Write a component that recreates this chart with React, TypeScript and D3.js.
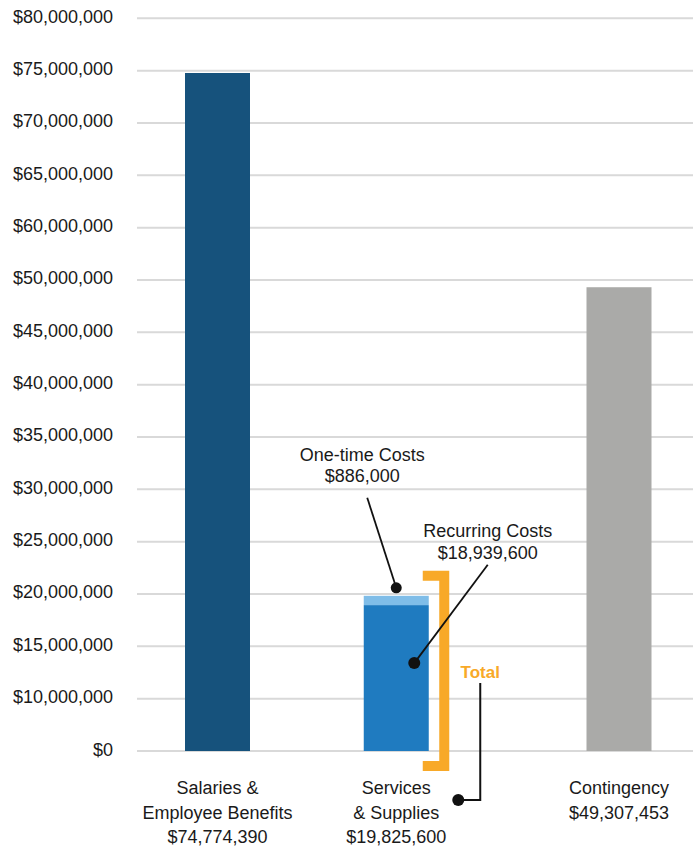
import React from 'react';
import * as d3 from 'd3';

// ---- data ----
const categories = ['Salaries & Employee Benefits', 'Services & Supplies', 'Contingency'];
const categoryLabelLines = [['Salaries &', 'Employee Benefits'], ['Services', '& Supplies'], ['Contingency']];
const totals = [74774390, 19825600, 49307453];
const recurringCosts = 18939600;
const oneTimeCosts = 886000;
const tickValues = [0, 10000000, 15000000, 20000000, 25000000, 30000000, 35000000, 40000000, 45000000, 50000000, 60000000, 65000000, 70000000, 75000000, 80000000];
const barColors = ['#16527c', '#1f7bc0', '#aaaaa8'];
const oneTimeColor = '#7fbde8';
const bracketColor = '#f8a928';

const W = 693;
const H = 848;
const FONT = '"Liberation Sans", Arial, Helvetica, sans-serif';
const TEXT = '#1a1a1a';

export default function App() {
  const yTop = 18.3;
  const yBottom = 751;
  const n = tickValues.length;
  const y = d3
    .scaleLinear()
    .domain(tickValues)
    .range(tickValues.map((_, i) => yBottom - (i * (yBottom - yTop)) / (n - 1)));

  const xPoint = d3.scalePoint<string>().domain(categories).range([217.5, 619]);
  const bracketRoom = 22;
  const cx = (c: string) => (xPoint(c) as number) - (c === categories[1] ? bracketRoom : 0);
  const barW = 65;
  const fmt = d3.format('$,');

  const gridX0 = 137;
  const gridX1 = W;

  const svc = categories[1];
  const sx = cx(svc);
  const sTotal = totals[1];
  const barRight = sx + barW / 2;

  // segments
  const segments: { key: string; x: number; y0: number; y1: number; color: string }[] = [];
  categories.forEach((c, i) => {
    if (i === 1) {
      segments.push({ key: 'rec', x: sx - barW / 2, y0: 0, y1: recurringCosts, color: barColors[1] });
      segments.push({ key: 'one', x: sx - barW / 2, y0: recurringCosts, y1: recurringCosts + oneTimeCosts, color: oneTimeColor });
    } else {
      segments.push({ key: c, x: cx(c) - barW / 2, y0: 0, y1: totals[i], color: barColors[i] });
    }
  });

  // annotation anchors
  const oneDot = { x: sx, y: y(sTotal) - 8 };
  const oneLabel = { x: sx - 34, y1: oneDot.y - 127, y2: oneDot.y - 106 };
  const recDot = { x: sx + 18, y: y(recurringCosts) + 58 };
  const recLabel = { x: sx + 91.5, y1: oneDot.y - 51, y2: oneDot.y - 29 };
  const bx = barRight + 15.5;
  const bTop = y(sTotal) - 20;
  const bBot = y(0) + 15;
  const totalLabel = { x: bx + 36, y: y(0) - 73 };
  const totalDot = { x: bx + 14, y: y(0) + 49 };

  return (
    <svg
      width={W}
      height={H}
      viewBox={`0 0 ${W} ${H}`}
      style={{ position: 'absolute', left: 0, top: 0, background: '#fff' }}
      fontFamily={FONT}
    >
      <rect width={W} height={H} fill="#fff" />
      {/* gridlines */}
      {tickValues.map((t) => (
        <g key={t}>
          <line x1={gridX0} x2={gridX1} y1={y(t)} y2={y(t)} stroke="#d9d9d9" strokeWidth={2} />
          <text x={113} y={y(t) + 4.5} textAnchor="end" fontSize={18} fill={TEXT}>
            {fmt(t)}
          </text>
        </g>
      ))}

      {/* bars */}
      {segments.map((s) => (
        <rect key={s.key} x={s.x} width={barW} y={y(s.y1)} height={y(s.y0) - y(s.y1)} fill={s.color} />
      ))}

      {/* category labels */}
      {categories.map((c, i) => {
        const lines = [...categoryLabelLines[i], fmt(totals[i])];
        return (
          <text key={c} textAnchor="middle" fontSize={18} fill={TEXT}>
            {lines.map((l, j) => (
              <tspan key={j} x={cx(c)} y={794 + j * 24.5}>
                {l}
              </tspan>
            ))}
          </text>
        );
      })}

      {/* bracket */}
      <path
        d={`M${barRight - 6},${bTop} H${bx} V${bBot} H${barRight - 6}`}
        fill="none"
        stroke={bracketColor}
        strokeWidth={10}
        strokeLinejoin="miter"
      />
      <text x={totalLabel.x} y={totalLabel.y} textAnchor="middle" fontSize={17} fontWeight="bold" fill={bracketColor}>
        Total
      </text>
      <path
        d={`M${totalLabel.x},${totalLabel.y + 5} V${totalDot.y} H${totalDot.x}`}
        fill="none"
        stroke="#111"
        strokeWidth={2}
      />
      <circle cx={totalDot.x} cy={totalDot.y} r={6} fill="#111" />

      {/* one-time annotation */}
      <text textAnchor="middle" fontSize={18} fill={TEXT}>
        <tspan x={oneLabel.x} y={oneLabel.y1}>One-time Costs</tspan>
        <tspan x={oneLabel.x} y={oneLabel.y2}>{fmt(oneTimeCosts)}</tspan>
      </text>
      <line x1={oneLabel.x + 5} y1={oneLabel.y2 + 16} x2={oneDot.x} y2={oneDot.y} stroke="#111" strokeWidth={1.8} />
      <circle cx={oneDot.x} cy={oneDot.y} r={5.5} fill="#111" />

      {/* recurring annotation */}
      <text textAnchor="middle" fontSize={18} fill={TEXT}>
        <tspan x={recLabel.x} y={recLabel.y1}>Recurring Costs</tspan>
        <tspan x={recLabel.x} y={recLabel.y2}>{fmt(recurringCosts)}</tspan>
      </text>
      <line x1={recLabel.x} y1={recLabel.y2 + 6} x2={recDot.x} y2={recDot.y} stroke="#111" strokeWidth={1.8} />
      <circle cx={recDot.x} cy={recDot.y} r={6} fill="#111" />
    </svg>
  );
}
